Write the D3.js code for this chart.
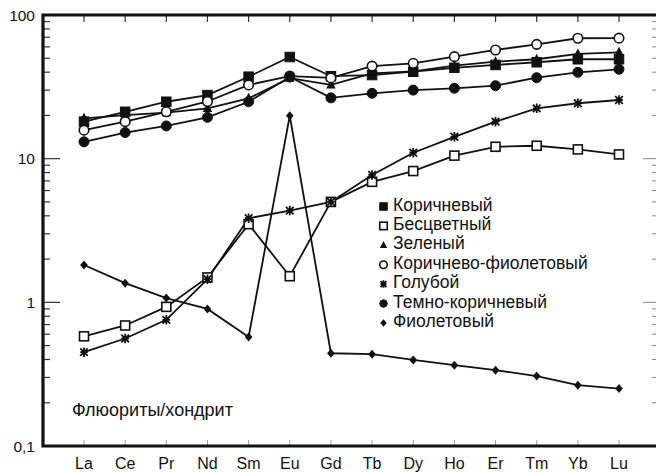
<!DOCTYPE html>
<html>
<head>
<meta charset="utf-8">
<script src="https://cdn.jsdelivr.net/npm/d3@7"></script>
<style>
  body { margin: 0; background: #fff; }
  text { font-family: "Liberation Sans", Arial, sans-serif; fill: #111; }
</style>
</head>
<body>
<div id="chart"></div>
<script>
// REE elements (x axis)
var elements = ["La", "Ce", "Pr", "Nd", "Sm", "Eu", "Gd", "Tb", "Dy", "Ho", "Er", "Tm", "Yb", "Lu"];

// fluorite / chondrite values per colour variety
var brown       = [18.1, 21.2, 24.9, 27.7, 37.2, 51.0, 37.5, 38.2, 40.3, 42.9, 44.9, 46.9, 49.2, 49.2];
var colorless   = [0.58, 0.69, 0.93, 1.49, 3.5, 1.52, 5.0, 6.9, 8.2, 10.5, 12.1, 12.3, 11.6, 10.7];
var green       = [19.1, 20.1, 20.9, 22.4, 26.3, 36.3, 32.6, 39.3, 40.5, 44.4, 47.3, 49.2, 53.6, 55.0];
var brownViolet = [15.8, 18.1, 21.2, 25.0, 32.6, 37.6, 36.5, 44.1, 46.1, 51.3, 57.1, 62.5, 68.9, 69.0];
var blue        = [0.45, 0.56, 0.755, 1.45, 3.85, 4.35, 5.0, 7.7, 11.0, 14.2, 18.1, 22.4, 24.3, 25.6];
var darkBrown   = [13.1, 15.2, 16.9, 19.4, 24.9, 37.0, 26.5, 28.5, 30.0, 30.9, 32.2, 36.6, 39.9, 41.9];
var violet      = [1.82, 1.36, 1.07, 0.90, 0.574, 19.9, 0.442, 0.436, 0.397, 0.365, 0.337, 0.307, 0.265, 0.251];

var yTickValues = [0.1, 1, 10, 100];
var yTickLabels = ["0,1", "1", "10", "100"];

var seriesNames = ["Коричневый", "Бесцветный", "Зеленый", "Коричнево-фиолетовый", "Голубой", "Темно-коричневый", "Фиолетовый"];
var seriesData = [brown, colorless, green, brownViolet, blue, darkBrown, violet];
var seriesMarks = ["fsquare", "osquare", "triangle", "ocircle", "star", "fcircle", "diamond"];

var svgWidth = 656, svgHeight = 472;
var plotLeft = 43, plotTop = 15, plotBottom = 446, plotRight = 656;

var svg = d3.select("#chart").append("svg")
  .attr("width", svgWidth)
  .attr("height", svgHeight);

var x = d3.scalePoint().domain(elements).range([84, 619]);
var y = d3.scaleLog().domain([0.1, 100]).range([plotBottom, plotTop]);

// minor log ticks
var minor = [];
[0.1, 1, 10].forEach(function(d) {
  for (var k = 2; k <= 9; k++) minor.push(d * k);
});

// left ticks
svg.append("g").selectAll("line").data(minor).enter().append("line")
  .attr("x1", plotLeft).attr("x2", plotLeft + 7)
  .attr("y1", d => y(d)).attr("y2", d => y(d))
  .attr("stroke", "#333").attr("stroke-width", 1.2);
svg.append("g").selectAll("line").data([1, 10]).enter().append("line")
  .attr("x1", plotLeft).attr("x2", plotLeft + 17)
  .attr("y1", d => y(d)).attr("y2", d => y(d))
  .attr("stroke", "#333").attr("stroke-width", 1.2);

// right ticks (faint)
svg.append("g").selectAll("line").data(minor).enter().append("line")
  .attr("x1", plotRight - 4).attr("x2", plotRight)
  .attr("y1", d => y(d)).attr("y2", d => y(d))
  .attr("stroke", "#888").attr("stroke-width", 1);
svg.append("g").selectAll("line").data([1, 10]).enter().append("line")
  .attr("x1", plotRight - 13).attr("x2", plotRight)
  .attr("y1", d => y(d)).attr("y2", d => y(d))
  .attr("stroke", "#888").attr("stroke-width", 1);

// top and bottom category ticks
svg.append("g").selectAll("line").data(elements).enter().append("line")
  .attr("x1", d => x(d)).attr("x2", d => x(d))
  .attr("y1", plotTop).attr("y2", plotTop + 7)
  .attr("stroke", "#333").attr("stroke-width", 1.2);
svg.append("g").selectAll("line").data(elements).enter().append("line")
  .attr("x1", d => x(d)).attr("x2", d => x(d))
  .attr("y1", plotBottom - 6).attr("y2", plotBottom)
  .attr("stroke", "#999").attr("stroke-width", 1);

// frame: top, left, bottom
svg.append("path")
  .attr("d", `M${plotRight},${plotTop} L${plotLeft},${plotTop} L${plotLeft},${plotBottom} L${plotRight},${plotBottom}`)
  .attr("fill", "none").attr("stroke", "#111").attr("stroke-width", 3.2);

// y labels
svg.append("g").selectAll("text").data(yTickValues).enter().append("text")
  .attr("x", 35).attr("y", d => y(d) + 5.5)
  .attr("text-anchor", "end")
  .attr("font-size", "15.5px")
  .text((d, i) => yTickLabels[i]);

// x labels
svg.append("g").selectAll("text").data(elements).enter().append("text")
  .attr("x", d => x(d)).attr("y", 468.5)
  .attr("text-anchor", "middle")
  .attr("font-size", "16px")
  .text(d => d);

svg.append("text")
  .attr("x", 72).attr("y", 415.5)
  .attr("font-size", "18px")
  .text("Флюориты/хондрит");

// marker drawer
function drawMark(g, type, cx, cy, s) {
  var h = s / 2;
  if (type === "fsquare" || type === "osquare") {
    g.append("rect").attr("x", cx - h).attr("y", cy - h).attr("width", s).attr("height", s)
      .attr("fill", type === "fsquare" ? "#111" : "#fff")
      .attr("stroke", "#111").attr("stroke-width", type === "fsquare" ? 1 : 1.6);
  } else if (type === "fcircle" || type === "ocircle") {
    g.append("circle").attr("cx", cx).attr("cy", cy).attr("r", h)
      .attr("fill", type === "fcircle" ? "#111" : "#fff")
      .attr("stroke", "#111").attr("stroke-width", type === "fcircle" ? 1 : 1.6);
  } else if (type === "triangle") {
    g.append("path")
      .attr("d", `M${cx},${cy - h * 1.15} L${cx + h},${cy + h * 0.75} L${cx - h},${cy + h * 0.75} Z`)
      .attr("fill", "#111");
  } else if (type === "diamond") {
    g.append("path")
      .attr("d", `M${cx},${cy - h} L${cx + h * 0.85},${cy} L${cx},${cy + h} L${cx - h * 0.85},${cy} Z`)
      .attr("fill", "#111");
  } else if (type === "star") {
    var a = h * 0.8;
    g.append("path")
      .attr("d", `M${cx - a},${cy - a} L${cx + a},${cy + a} M${cx - a},${cy + a} L${cx + a},${cy - a} M${cx},${cy - h} L${cx},${cy + h} M${cx - a},${cy} L${cx + a},${cy}`)
      .attr("fill", "none").attr("stroke", "#111").attr("stroke-width", 1.8);
  }
}

var line = d3.line()
  .x((d, i) => x(elements[i]))
  .y(d => y(d));

var plot = svg.append("g");

seriesData.forEach(function(vals) {
  plot.append("path")
    .attr("d", line(vals))
    .attr("fill", "none")
    .attr("stroke", "#111")
    .attr("stroke-width", 1.8);
});

var sizes = { fsquare: 9.5, osquare: 9, triangle: 9.5, ocircle: 9.5, star: 9.5, fcircle: 10, diamond: 9 };
seriesData.forEach(function(vals, si) {
  var g = plot.append("g");
  vals.forEach(function(v, i) {
    drawMark(g, seriesMarks[si], x(elements[i]), y(v), sizes[seriesMarks[si]]);
  });
});

// legend
var legend = svg.append("g");
seriesNames.forEach(function(name, i) {
  var base = 210.5 + i * 19.4;
  var g = legend.append("g");
  drawMark(g, seriesMarks[i], 383.5, base - 4, 7.5);
  g.append("text")
    .attr("x", 393).attr("y", base)
    .attr("font-size", "17.5px")
    .text(name);
});
</script>
</body>
</html>
